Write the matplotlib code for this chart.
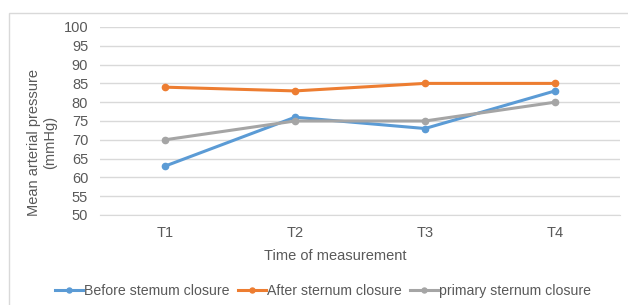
import matplotlib
matplotlib.use("Agg")
import matplotlib.pyplot as plt
from matplotlib.patches import Rectangle

plt.rcParams['font.family'] = ['Liberation Sans', 'DejaVu Sans']

times = ['T1', 'T2', 'T3', 'T4']
before = [63, 76, 73, 83]
after = [84, 83, 85, 85]
primary = [70, 75, 75, 80]
yticks = [50, 55, 60, 65, 70, 75, 80, 85, 90, 95, 100]

txt = '#595959'
grid = '#D9D9D9'
fs = 10.5

fig = plt.figure(figsize=(6.28, 3.05), dpi=100)
# chart border (right and bottom edges fall outside the crop)
fig.patches.append(Rectangle((9 / 628, -0.1), 1.2, 1 - 13 / 305 + 0.1,
                             transform=fig.transFigure, fill=False,
                             edgecolor='#D9D9D9', linewidth=1))

ax = fig.add_axes([100 / 628, 1 - 215 / 305, 520 / 628, 188 / 305])
x = range(len(times))
ax.plot(x, before, color='#5B9BD5', lw=2.2, marker='o', ms=4.5, label='Before stemum closure')
ax.plot(x, after, color='#ED7D31', lw=2.2, marker='o', ms=4.5, label='After sternum closure')
ax.plot(x, primary, color='#A5A5A5', lw=2.2, marker='o', ms=4.5, label='primary sternum closure')

ax.set_xlim(-0.5, 3.5)
ax.set_ylim(50, 100)
ax.set_yticks(yticks)
ax.set_xticks(list(x))
ax.set_xticklabels(times)
ax.yaxis.grid(True, color=grid, lw=1)
ax.set_axisbelow(True)
for s in ['top', 'right', 'left']:
    ax.spines[s].set_visible(False)
ax.spines['bottom'].set_color(grid)
ax.tick_params(axis='both', length=0, labelsize=fs, labelcolor=txt)
ax.tick_params(axis='y', pad=8.5)
ax.tick_params(axis='x', pad=8)

fig.text(42 / 628, 1 - 142 / 305, 'Mean arterial pressure\n(mmHg)', rotation=90,
         ha='center', va='center', fontsize=fs, color=txt, linespacing=1.15)
fig.text(335 / 628, 1 - 256 / 305, 'Time of measurement', ha='center', va='center',
         fontsize=fs, color=txt)

leg = fig.legend(loc='center', bbox_to_anchor=(323 / 628, 1 - 291 / 305), ncol=3,
                 frameon=False, fontsize=10.2, handlelength=2.0, handletextpad=0.05,
                 columnspacing=0.6, labelcolor=txt, markerscale=0.8,
                 borderpad=0, borderaxespad=0)

fig.savefig('out.png', dpi=100)
